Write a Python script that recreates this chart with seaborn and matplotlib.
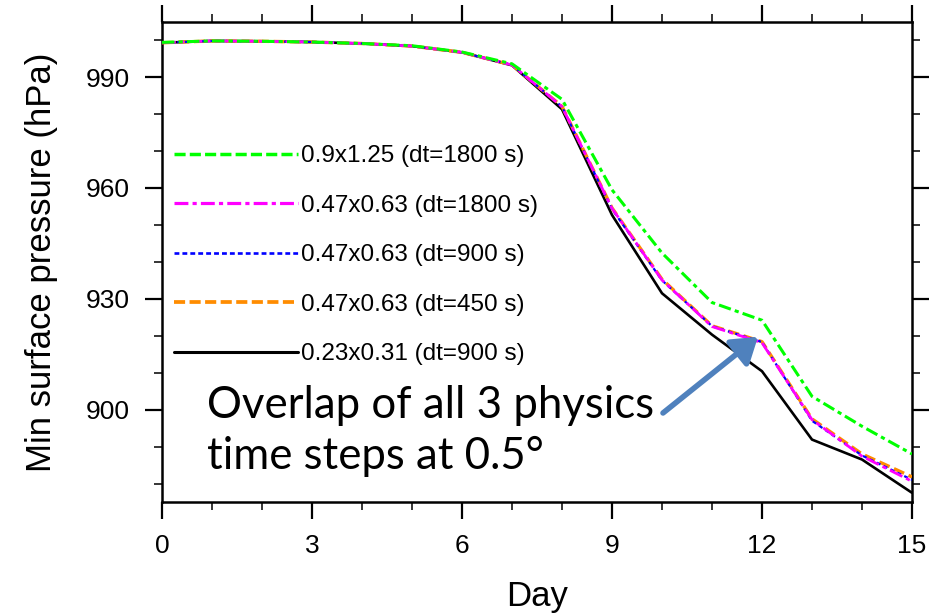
import matplotlib
matplotlib.use("Agg")
import matplotlib.pyplot as plt
from matplotlib.lines import Line2D
import seaborn as sns
import numpy as np

# ---- data ----
days = list(range(16))
p_09x125_1800 = [999.4, 999.8, 999.7, 999.5, 999.1, 998.5, 996.8, 993.6, 984.0,
                 959.5, 942.4, 929.0, 924.2, 903.6, 895.5, 888.0]
p_047x063_1800 = [999.3, 999.8, 999.7, 999.5, 999.1, 998.4, 996.7, 993.3, 982.0,
                  954.5, 935.1, 922.5, 918.1, 897.3, 887.4, 880.6]
p_047x063_900 = [999.3, 999.8, 999.7, 999.5, 999.1, 998.4, 996.7, 993.3, 982.0,
                 954.3, 935.0, 922.6, 918.3, 897.0, 887.6, 881.0]
p_047x063_450 = [999.3, 999.8, 999.7, 999.5, 999.1, 998.4, 996.7, 993.3, 982.1,
                 954.6, 935.3, 922.7, 918.4, 897.5, 888.0, 881.8]
p_023x031_900 = [999.3, 999.8, 999.7, 999.5, 999.1, 998.4, 996.7, 993.2, 981.3,
                 952.7, 931.5, 920.3, 910.4, 891.9, 886.5, 877.5]

labels = ["0.9x1.25 (dt=1800 s)", "0.47x0.63 (dt=1800 s)", "0.47x0.63 (dt=900 s)",
          "0.47x0.63 (dt=450 s)", "0.23x0.31 (dt=900 s)"]
x_ticks = [0, 3, 6, 9, 12, 15]
y_ticks = [900, 930, 960, 990]
annot_text = "Overlap of all 3 physics\ntime steps at 0.5°"

# ---- styling ----
sns.set_style("ticks")
plt.rcParams["font.family"] = ["Liberation Sans", "DejaVu Sans"]
plt.rcParams["lines.scale_dashes"] = False
plt.rcParams["text.color"] = "black"
plt.rcParams["axes.labelcolor"] = "black"
plt.rcParams["xtick.color"] = "black"
plt.rcParams["ytick.color"] = "black"
plt.rcParams["xtick.labelcolor"] = "black"
plt.rcParams["ytick.labelcolor"] = "black"

fig = plt.figure(figsize=(9.33, 6.15), dpi=100)
ax = fig.add_axes([0.1736, 0.1837, 0.8039, 0.7810])

colors = ["#00ff00", "#ff00ff", "#0000ff", "#ff8c00", "#000000"]
plot_ls = [(0, (9, 3, 3, 3)), (0, (10, 3, 3, 3)), (0, (3, 2.5)), (0, (8, 3.5)), "-"]
leg_ls = [(0, (8, 3)), (0, (10, 3, 3, 3)), (0, (3.5, 2.2)), (0, (8, 3.2)), "-"]
widths = [2.2, 2.0, 1.6, 2.4, 1.9]
series = [p_09x125_1800, p_047x063_1800, p_047x063_900, p_047x063_450, p_023x031_900]
zorders = [6, 5, 4, 3, 2]

for i in [4, 3, 2, 1, 0]:
    sns.lineplot(x=days, y=series[i], ax=ax, color=colors[i], linewidth=widths[i],
                 linestyle=plot_ls[i], zorder=zorders[i])

ax.set_xlim(0, 15)
ax.set_ylim(875, 1005)
ax.set_xticks(x_ticks)
ax.set_yticks(y_ticks)
ax.set_xticks(range(0, 16), minor=True)
ax.set_yticks(range(880, 1001, 10), minor=True)
ax.tick_params(which="major", direction="out", length=12, width=1.6,
               labelsize=19, pad=11, top=True, right=True, colors="black",
               labelcolor="black")
ax.tick_params(which="minor", direction="out", length=6, width=1.1,
               top=True, right=True, colors="black")
for s in ax.spines.values():
    s.set_visible(True)
    s.set_linewidth(1.8)
    s.set_color("black")

ax.set_xlabel("Day", fontsize=25, labelpad=16, color="black")
ax.set_ylabel("Min surface pressure (hPa)", fontsize=25, labelpad=20, color="black")

handles = [Line2D([0], [0], color=colors[i], lw=widths[i] + 0.3, linestyle=leg_ls[i])
           for i in range(5)]
leg = ax.legend(handles, labels, loc="upper left", bbox_to_anchor=(0.016, 0.7425),
                frameon=False, fontsize=17.5, handlelength=5.1, handletextpad=0.13,
                labelspacing=1.13, borderpad=0, borderaxespad=0, labelcolor="black")

ax.text(0.9, 906.8, annot_text, fontsize=31.5, family=["Lato", "DejaVu Sans"],
        va="top", ha="left", linespacing=1.3, zorder=8, color="black")
ax.annotate("", xy=(11.92, 919.7), xytext=(10.02, 899.1),
            arrowprops=dict(arrowstyle="-|>,head_length=0.75,head_width=0.5",
                            lw=4, color="#4f81bd", shrinkA=0, shrinkB=0,
                            mutation_scale=20), zorder=9)

fig.savefig("out.png", dpi=100, facecolor="white")
